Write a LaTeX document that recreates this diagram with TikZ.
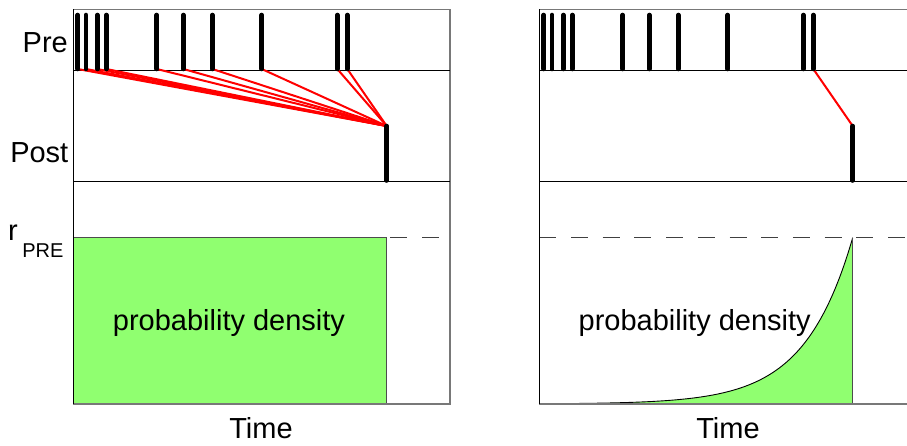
\documentclass[tikz,border=0pt]{standalone}
\usepackage{fontspec}
\setmainfont{Liberation Sans}
\definecolor{pdgreen}{RGB}{144,255,112}
\definecolor{framegray}{RGB}{120,120,120}
\begin{document}
\begin{tikzpicture}[x=1pt,y=-1pt,
  lbl/.style={inner sep=0pt,font=\fontsize{29}{33}\selectfont},
  spike/.style={line width=4.6pt,line cap=round},
  link/.style={red,line width=2pt},
  frameline/.style={framegray,line width=1.2pt},
  axisline/.style={black,line width=1pt},
  refline/.style={black!75,line width=1pt,dash pattern=on 17pt off 14.7pt}]
\useasboundingbox (0,0) rectangle (907,445);
% ---------- left panel ----------
\fill[pdgreen] (73.3,237.7) rectangle (386.7,404);
\draw[refline] (73.3,237.7) -- (450,237.7);
\draw[black!70,line width=1pt] (73.3,404) -- (73.3,237.7) -- (386.7,237.7) -- (386.7,404);
\draw[frameline] (73.3,9.3) -- (450,9.3);
\draw[frameline] (450,9.3) -- (450,404) -- (73.3,404);
\draw[axisline] (73.3,9.3) -- (73.3,404);
\draw[axisline] (73.3,70) -- (450,70);
\draw[axisline] (73.3,181.7) -- (450,181.7);
% ---------- right panel ----------
\fill[pdgreen] (539.3,404) -- plot[domain=539.3:852.7,samples=120] (\x,{404-166.3*exp(-(852.7-\x)/48)}) -- (852.7,404) -- cycle;
\draw[refline] (539.3,237.7) -- (907,237.7);
\draw[black,line width=0.9pt] plot[domain=539.3:852.7,samples=120] (\x,{404-166.3*exp(-(852.7-\x)/48)});
\draw[black!70,line width=1pt] (852.7,237.7) -- (852.7,404);
\draw[frameline] (539.3,9.3) -- (907,9.3);
\draw[frameline] (539.3,404) -- (907,404);
\draw[axisline] (539.3,9.3) -- (539.3,404);
\draw[axisline] (539.3,70) -- (907,70);
\draw[axisline] (539.3,181.7) -- (907,181.7);
% ---------- spikes ----------
\foreach \n/\xx in {1/77.7,2/86,3/97.3,4/106.3,5/156.7,6/183.3,7/212.3,8/261.7,9/337.3,10/347.3}{
  \coordinate (lt\n) at (\xx,15);
  \coordinate (lb\n) at (\xx,69);
  \coordinate (rt\n) at ({\xx+466},15);
  \coordinate (rb\n) at ({\xx+466},69);
}
\coordinate (lpt) at (386.7,126);
\coordinate (lpb) at (386.7,180.5);
\coordinate (rpt) at (852.7,126);
\coordinate (rpb) at (852.7,180.5);
\foreach \n in {1,...,10}{
  \draw[link] (lb\n) -- (lpt);
}
\draw[link] (rb10) -- (rpt);
\foreach \n in {1,...,10}{
  \draw[spike] (lt\n) -- (lb\n);
  \draw[spike] (rt\n) -- (rb\n);
}
\draw[spike] (lpt) -- (lpb);
\draw[spike] (rpt) -- (rpb);
% ---------- labels ----------
\node[lbl,anchor=east] (pre) at (68,43) {Pre};
\node[lbl,anchor=east] (post) at (68.5,153) {Post};
\node[lbl,anchor=base west] (rpre) at (8,240) {r\hspace{4.5pt}\raisebox{-17pt}{\fontsize{20}{22}\selectfont PRE}};
\node[lbl] (pdl) at (229,323) {probability density};
\node[lbl] (pdr) at (694.7,323) {probability density};
\node[lbl] (timel) at (261,428) {Time};
\node[lbl] (timer) at (728,428) {Time};
\end{tikzpicture}
\end{document}
